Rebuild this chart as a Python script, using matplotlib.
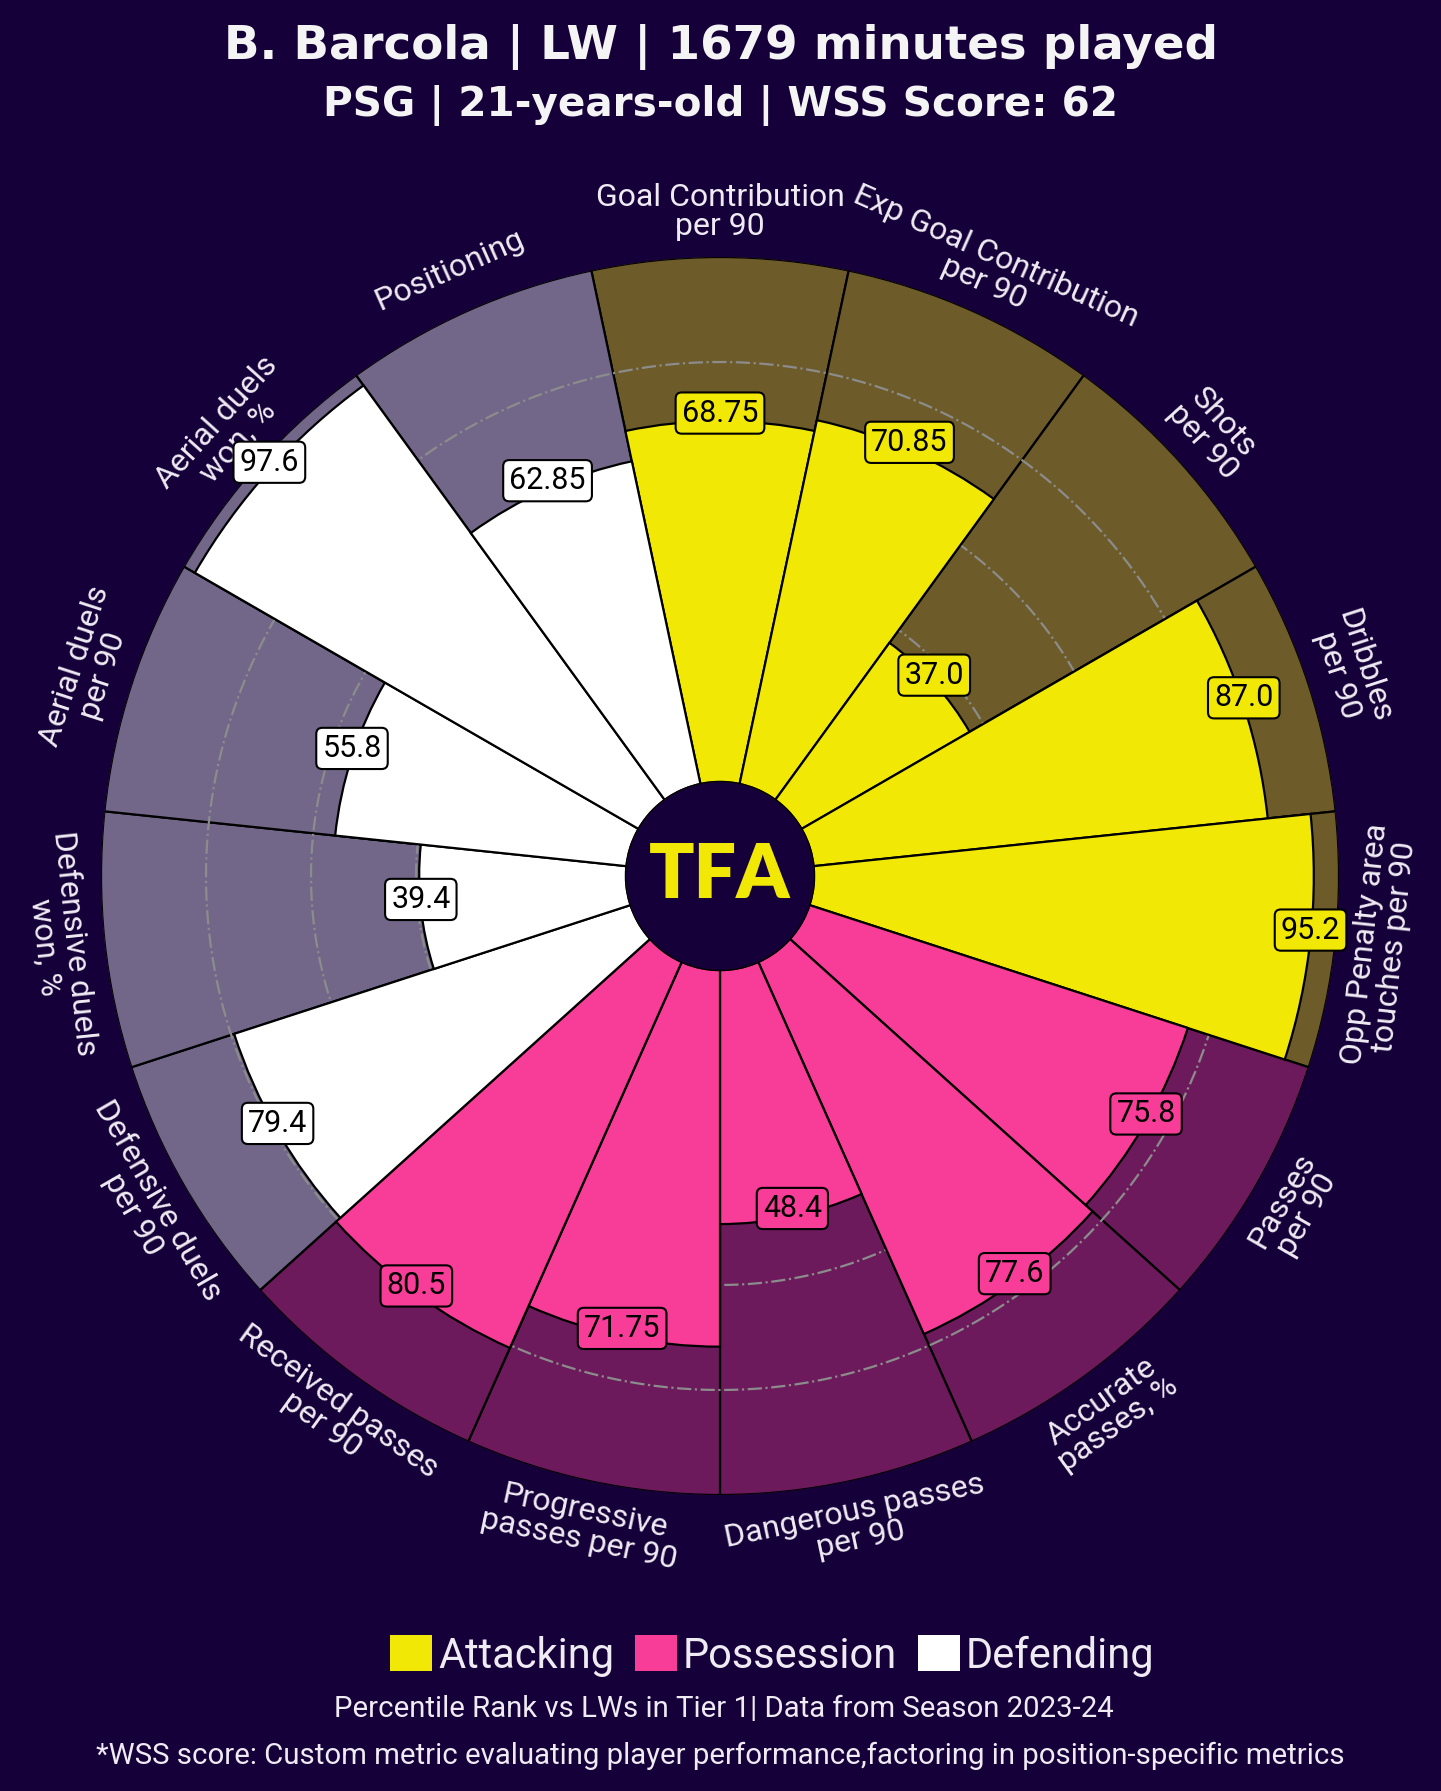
import numpy as np
import matplotlib
matplotlib.use("Agg")
import matplotlib.pyplot as plt
from matplotlib.patches import Patch, Circle
from matplotlib.transforms import offset_copy

# --- adatok (óramutató járásával egyezően, felülről indulva) ---
params = ["Goal Contribution\nper 90", "Exp Goal Contribution\nper 90", "Shots\nper 90",
          "Dribbles\nper 90", "Opp Penalty area\ntouches per 90", "Passes\nper 90",
          "Accurate\npasses, %", "Dangerous passes\nper 90", "Progressive\npasses per 90",
          "Received passes\nper 90", "Defensive duels\nper 90", "Defensive duels\nwon, %",
          "Aerial duels\nper 90", "Aerial duels\nwon, %", "Positioning"]
values = [68.75, 70.85, 37.0, 87.0, 95.2, 75.8, 77.6, 48.4, 71.75, 80.5, 79.4, 39.4, 55.8, 97.6, 62.85]
groups = ["Attacking"] * 5 + ["Possession"] * 5 + ["Defending"] * 5

group_names = ["Attacking", "Possession", "Defending"]
slice_colors = {"Attacking": "#f2e806", "Possession": "#f73d97", "Defending": "#ffffff"}
back_colors = {"Attacking": "#6d5b29", "Possession": "#6d1a5c", "Defending": "#726789"}

title = "B. Barcola | LW | 1679 minutes played"
subtitle = "PSG | 21-years-old | WSS Score: 62"
footer1 = "Percentile Rank vs LWs in Tier 1| Data from Season 2023-24"
footer2 = "*WSS score: Custom metric evaluating player performance,factoring in position-specific metrics"

BG = "#16003a"
TXT = "#efebf3"
W, H = 1441, 1791
INNER = 17.9          # belső kör mérete (adat egységben)

fig = plt.figure(figsize=(W / 100, H / 100), dpi=100, facecolor=BG)

# polár tengely: középpont (720, 876) px, sugár 619 px
R = 619
cx, cy = 720, 876
ax = fig.add_axes([(cx - R) / W, (H - cy - R) / H, 2 * R / W, 2 * R / H], projection="polar")
ax.set_facecolor(BG)
ax.set_ylim(0, 100)
ax.set_rorigin(-INNER)
ax.axis("off")

n = len(values)
width = 2 * np.pi / n
angles_deg = np.array([(90 - 360 / n * i) % 360 for i in range(n)])
theta = np.deg2rad(angles_deg)

# háttér szeletek (100-ig)
ax.bar(theta, [100] * n, width=width, bottom=0,
       color=[back_colors[g] for g in groups], edgecolor="black", linewidth=1.6, zorder=1)

# szaggatott körök
t = np.linspace(0, 2 * np.pi, 500)
for rr in [20, 40, 60, 80]:
    ax.plot(t, np.full_like(t, rr), color="#8c8c8c", linestyle="-.", linewidth=1.6, zorder=2)

# érték szeletek
ax.bar(theta, values, width=width, bottom=0,
       color=[slice_colors[g] for g in groups], edgecolor="black", linewidth=1.6, zorder=3)

# értékek dobozban (kicsit feljebb tolva)
val_tr = offset_copy(ax.transData, fig=fig, y=8, units="dots")
for th, v, g in zip(theta, values, groups):
    ax.text(th, v, f"{v}", ha="center", va="center", fontsize=22, family="Roboto",
            color="black", zorder=6, transform=val_tr,
            bbox=dict(boxstyle="round,pad=0.2", facecolor=slice_colors[g],
                      edgecolor="black", linewidth=1.5))

# paraméter feliratok
for th, a, p in zip(theta, angles_deg, params):
    rot = a - 90 if a <= 180 else a + 90
    ax.text(th, 108.5, p, ha="center", va="center", rotation=rot, rotation_mode="anchor",
            fontsize=23, family="Roboto", color=TXT, linespacing=1.0, clip_on=False)

# középső kör logóval
ax.add_patch(Circle((0.5, 0.5), INNER / (100 + INNER) * 0.5, transform=ax.transAxes,
                    facecolor=BG, edgecolor="black", linewidth=1.8, zorder=10))
ax.text(0.5, 0.5, "TFA", transform=ax.transAxes, ha="center", va="center",
        fontsize=54, family="Lato", fontweight="heavy", color=slice_colors["Attacking"], zorder=11)

# címek
fig.text(0.5, 1 - 47 / H, title, ha="center", va="center", fontsize=33.7,
         family="DejaVu Sans", fontweight="bold", color="#f4f4f4")
fig.text(0.5, 1 - 106 / H, subtitle, ha="center", va="center", fontsize=29.2,
         family="DejaVu Sans", fontweight="bold", color="#f4f4f4")

# jelmagyarázat
handles = [Patch(facecolor=slice_colors[g], edgecolor="none") for g in group_names]
fig.legend(handles, group_names, loc="center", bbox_to_anchor=(0.536, 1 - 1656 / H), ncol=3,
           frameon=False, prop={"family": "Roboto", "size": 30}, labelcolor=TXT,
           handlelength=1.0, handleheight=0.95, handletextpad=0.15, columnspacing=0.5)

fig.text(0.502, 1 - 1709 / H, footer1, ha="center", va="center", fontsize=21.2,
         family="Roboto", color=TXT)
fig.text(0.5, 1 - 1756 / H, footer2, ha="center", va="center", fontsize=21.2,
         family="Roboto", color=TXT)

fig.savefig("out.png", dpi=100, facecolor=BG)
